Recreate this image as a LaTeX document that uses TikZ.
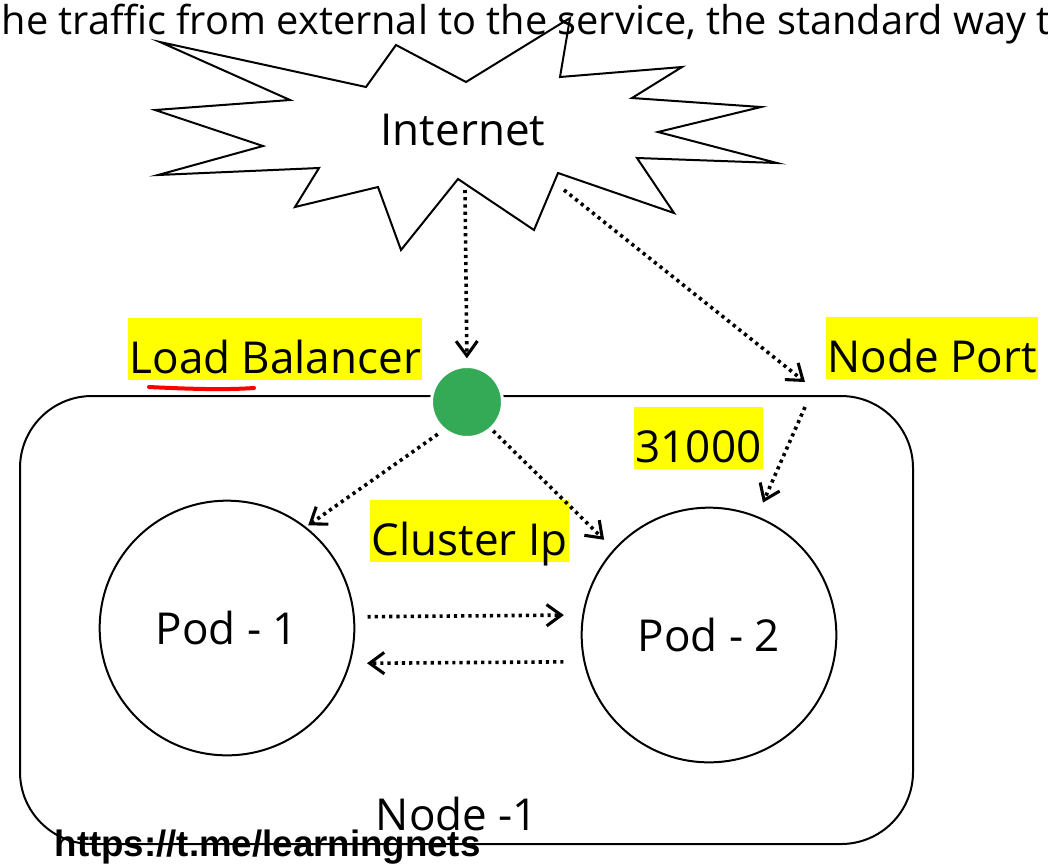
\documentclass[tikz,border=0pt]{standalone}
\usepackage{fontspec}
\setmainfont{Open Sans}
\newfontfamily\urlfont{Liberation Sans}
\usetikzlibrary{arrows.meta}
\definecolor{lbgreen}{RGB}{52,170,87}
\definecolor{hlyellow}{RGB}{255,255,0}

\begin{document}
\begin{tikzpicture}[x=0.75pt,y=-0.75pt,
  font=\fontsize{33}{40}\selectfont,
  flow/.style={line width=2.7pt,dash pattern=on 2.4pt off 3pt,
    -{Straight Barb[length=11pt,width=16pt,line width=2.3pt]}},
  hl/.style={fill=hlyellow,inner xsep=1pt,inner ysep=0pt,
    text height=41.25pt,text depth=5.25pt,anchor=base west},
  pod/.style={draw,circle,line width=1.5pt,minimum size=191pt}]
\useasboundingbox (0,0) rectangle (1048,865);
\draw[line width=1.5pt] (160,42) -- (366,87) -- (396,45) -- (466,82) -- (570,18)
  -- (560,77) -- (682,67) -- (632,98) -- (761,107) -- (658,132) -- (777,163)
  -- (637,158) -- (674,213) -- (558,173) -- (534,230) -- (458,179) -- (401,250)
  -- (378,187) -- (295,207) -- (319,168) -- (158,175) -- (263,146) -- (155,110)
  -- (290,100) -- cycle;
\node[anchor=base west,font=\fontsize{29.8}{36}\selectfont] (intro) at (-3,34)
  {he traffic from external to the service, the standard way t};
\node[anchor=base] (inet) at (463,145) {Internet};
\draw[line width=1.5pt,rounded corners=54pt] (20,396) rectangle (913,844);
\node[circle,fill=lbgreen,draw=white,line width=2.25pt,minimum size=53.25pt] (lb) at (467,402) {};
\node[pod] (pod1) at (227,628) {Pod - 1};
\node[pod] (pod2) at (709,635) {Pod - 2};
\node[hl] (lblbl) at (128,373) {Load Balancer};
\node[hl] (nplbl) at (826,372) {Node Port};
\node[hl] (portlbl) at (634,462) {31000};
\node[hl] (cilbl) at (370,555) {Cluster Ip};
\node[anchor=base] (nodelbl) at (457,830) {Node -1};
\node[anchor=base west,font=\urlfont\bfseries\fontsize{27.5}{30}\selectfont] (url) at (50,856)
  {https://t.me/learningnets};
\draw[red,line width=3pt,line cap=round] (149,387) .. controls (190,389) and (225,390) .. (254,388);
\coordinate (inetS) at (465,190);
\coordinate (inetSE) at (564,190);
\coordinate (npin) at (805,382);
\coordinate (npout) at (805,407);
\draw[flow,shorten >=5pt] (inetS) -- (lb.north);
\draw[flow] (inetSE) -- (npin);
\draw[flow,shorten <=5pt,shorten >=2pt] (lb.230) -- (pod1.52);
\draw[flow,shorten <=1.5pt,shorten >=10pt] (lb.312) -- (pod2.138);
\draw[flow,shorten >=11pt] (npout) -- (pod2.68.6);
\draw[flow,shorten <=9.5pt,shorten >=13.8pt] (pod1.5.4) -- (pod2.171.5);
\draw[flow,shorten <=15pt,shorten >=12.5pt] (pod2.192.2) -- (pod1.344.6);
\end{tikzpicture}
\end{document}
